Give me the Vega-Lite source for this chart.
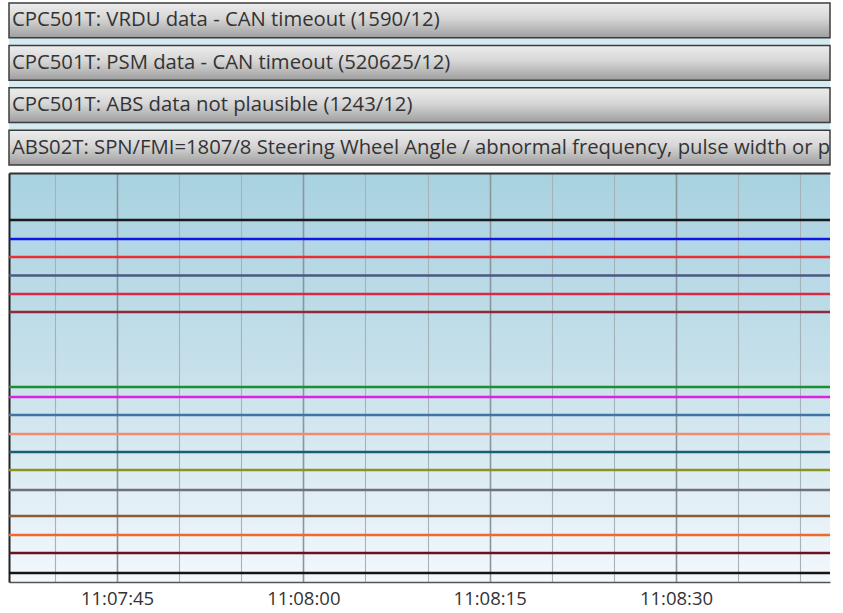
{
  "$schema": "https://vega.github.io/schema/vega-lite/v6.json",
  "background": "white",
  "padding": {"left": 7, "top": 2, "right": 0, "bottom": 0},
  "spacing": 7,
  "config": {"font": "Open Sans"},
  "datasets": {
    "headers": [
      {"order": 1, "message": "CPC501T: VRDU data - CAN timeout (1590/12)"},
      {"order": 2, "message": "CPC501T: PSM data - CAN timeout (520625/12)"},
      {"order": 3, "message": "CPC501T: ABS data not plausible (1243/12)"},
      {"order": 4, "message": "ABS02T: SPN/FMI=1807/8 Steering Wheel Angle / abnormal frequency, pulse width or period"}
    ],
    "signals": [
      {"series": "Signal 01", "level": 362, "t0": 1704107256300, "t1": 1704107322400},
      {"series": "Signal 02", "level": 343, "t0": 1704107256300, "t1": 1704107322400},
      {"series": "Signal 03", "level": 325, "t0": 1704107256300, "t1": 1704107322400},
      {"series": "Signal 04", "level": 306.5, "t0": 1704107256300, "t1": 1704107322400},
      {"series": "Signal 05", "level": 288, "t0": 1704107256300, "t1": 1704107322400},
      {"series": "Signal 06", "level": 270, "t0": 1704107256300, "t1": 1704107322400},
      {"series": "Signal 07", "level": 195, "t0": 1704107256300, "t1": 1704107322400},
      {"series": "Signal 08", "level": 185, "t0": 1704107256300, "t1": 1704107322400},
      {"series": "Signal 09", "level": 167, "t0": 1704107256300, "t1": 1704107322400},
      {"series": "Signal 10", "level": 148, "t0": 1704107256300, "t1": 1704107322400},
      {"series": "Signal 11", "level": 130, "t0": 1704107256300, "t1": 1704107322400},
      {"series": "Signal 12", "level": 112, "t0": 1704107256300, "t1": 1704107322400},
      {"series": "Signal 13", "level": 92, "t0": 1704107256300, "t1": 1704107322400},
      {"series": "Signal 14", "level": 66, "t0": 1704107256300, "t1": 1704107322400},
      {"series": "Signal 15", "level": 47, "t0": 1704107256300, "t1": 1704107322400},
      {"series": "Signal 16", "level": 29, "t0": 1704107256300, "t1": 1704107322400},
      {"series": "Signal 17", "level": 9, "t0": 1704107256300, "t1": 1704107322400}
    ]
  },
  "vconcat": [
    {
      "width": 821,
      "height": 162,
      "data": {"name": "headers"},
      "view": {"fill": "#d3ebf1", "stroke": null},
      "encoding": {
        "y": {"field": "message", "type": "nominal", "sort": {"field": "order"},
              "scale": {"paddingInner": 0.18, "paddingOuter": 0}, "axis": null}
      },
      "layer": [
        {
          "mark": {"type": "rect", "stroke": "#3c3c3c", "strokeWidth": 1.5,
            "fill": {"gradient": "linear", "x1": 0, "y1": 0, "x2": 0, "y2": 1,
              "stops": [{"offset": 0, "color": "#ededed"}, {"offset": 0.45, "color": "#d6d6d6"}, {"offset": 1, "color": "#9e9e9e"}]}}
        },
        {
          "mark": {"type": "text", "align": "left", "baseline": "middle", "fontSize": 20.3, "color": "#333333", "clip": true, "dx": 3},
          "encoding": {"text": {"field": "message"}, "x": {"value": 0}}
        }
      ]
    },
    {
      "width": 821,
      "height": 409,
      "data": {"name": "signals"},
      "view": {
        "stroke": null,
        "fill": {"gradient": "linear", "x1": 0, "y1": 0, "x2": 0, "y2": 1,
          "stops": [{"offset": 0, "color": "#a8d2e0"}, {"offset": 0.45, "color": "#c4dfea"}, {"offset": 1, "color": "#f3f8fc"}]}
      },
      "resolve": {"axis": {"x": "independent"}},
      "layer": [
        {
          "mark": {"type": "rule", "strokeWidth": 2.5},
          "encoding": {
            "x": {"field": "t0", "type": "temporal",
              "scale": {"type": "utc", "domain": [1704107256300, 1704107322400], "nice": false},
              "axis": {
                "orient": "bottom", "title": null, "ticks": false, "labelPadding": 7,
                "labelFontSize": 18.5, "labelColor": "#333333", "labelFont": "Open Sans",
                "domainColor": "#555555", "domainWidth": 1.5,
                "values": [1704107260000, 1704107265000, 1704107270000, 1704107275000, 1704107280000, 1704107285000, 1704107290000, 1704107295000, 1704107300000, 1704107305000, 1704107310000, 1704107315000, 1704107320000],
                "labelExpr": "utcseconds(datum.value) % 15 === 0 ? utcFormat(datum.value, '%H:%M:%S') : ''",
                "grid": true,
                "gridColor": {"condition": {"test": "utcseconds(datum.value) % 15 === 0", "value": "#8a959c"}, "value": "#a6b2ba"},
                "gridWidth": {"condition": {"test": "utcseconds(datum.value) % 15 === 0", "value": 1.6}, "value": 1.1},
                "labelOverlap": false
              }},
            "x2": {"field": "t1"},
            "y": {"field": "level", "type": "quantitative",
              "scale": {"domain": [0, 409], "nice": false, "zero": true},
              "axis": {"title": null, "labels": false, "ticks": false, "grid": false, "domainColor": "#222222", "domainWidth": 2}},
            "color": {"field": "series", "type": "nominal", "legend": null,
              "scale": {"domain": ["Signal 01", "Signal 02", "Signal 03", "Signal 04", "Signal 05", "Signal 06", "Signal 07", "Signal 08", "Signal 09", "Signal 10", "Signal 11", "Signal 12", "Signal 13", "Signal 14", "Signal 15", "Signal 16", "Signal 17"],
                "range": ["#1a1a1a", "#1414e6", "#e8303a", "#4c5a80", "#d92a48", "#8c2a3a", "#1c9030", "#e020e0", "#3e74a8", "#f08a70", "#1a5e70", "#8c9420", "#707078", "#8c5a35", "#f06a28", "#6e1020", "#151515"]}}
          }
        },
        {
          "mark": {"type": "rule", "opacity": 0},
          "encoding": {
            "x": {"field": "t0", "type": "temporal",
              "axis": {"orient": "top", "title": null, "labels": false, "ticks": false, "grid": false, "domainColor": "#333333", "domainWidth": 2}},
            "x2": {"field": "t1"},
            "y": {"field": "level", "type": "quantitative"}
          }
        }
      ]
    }
  ]
}
